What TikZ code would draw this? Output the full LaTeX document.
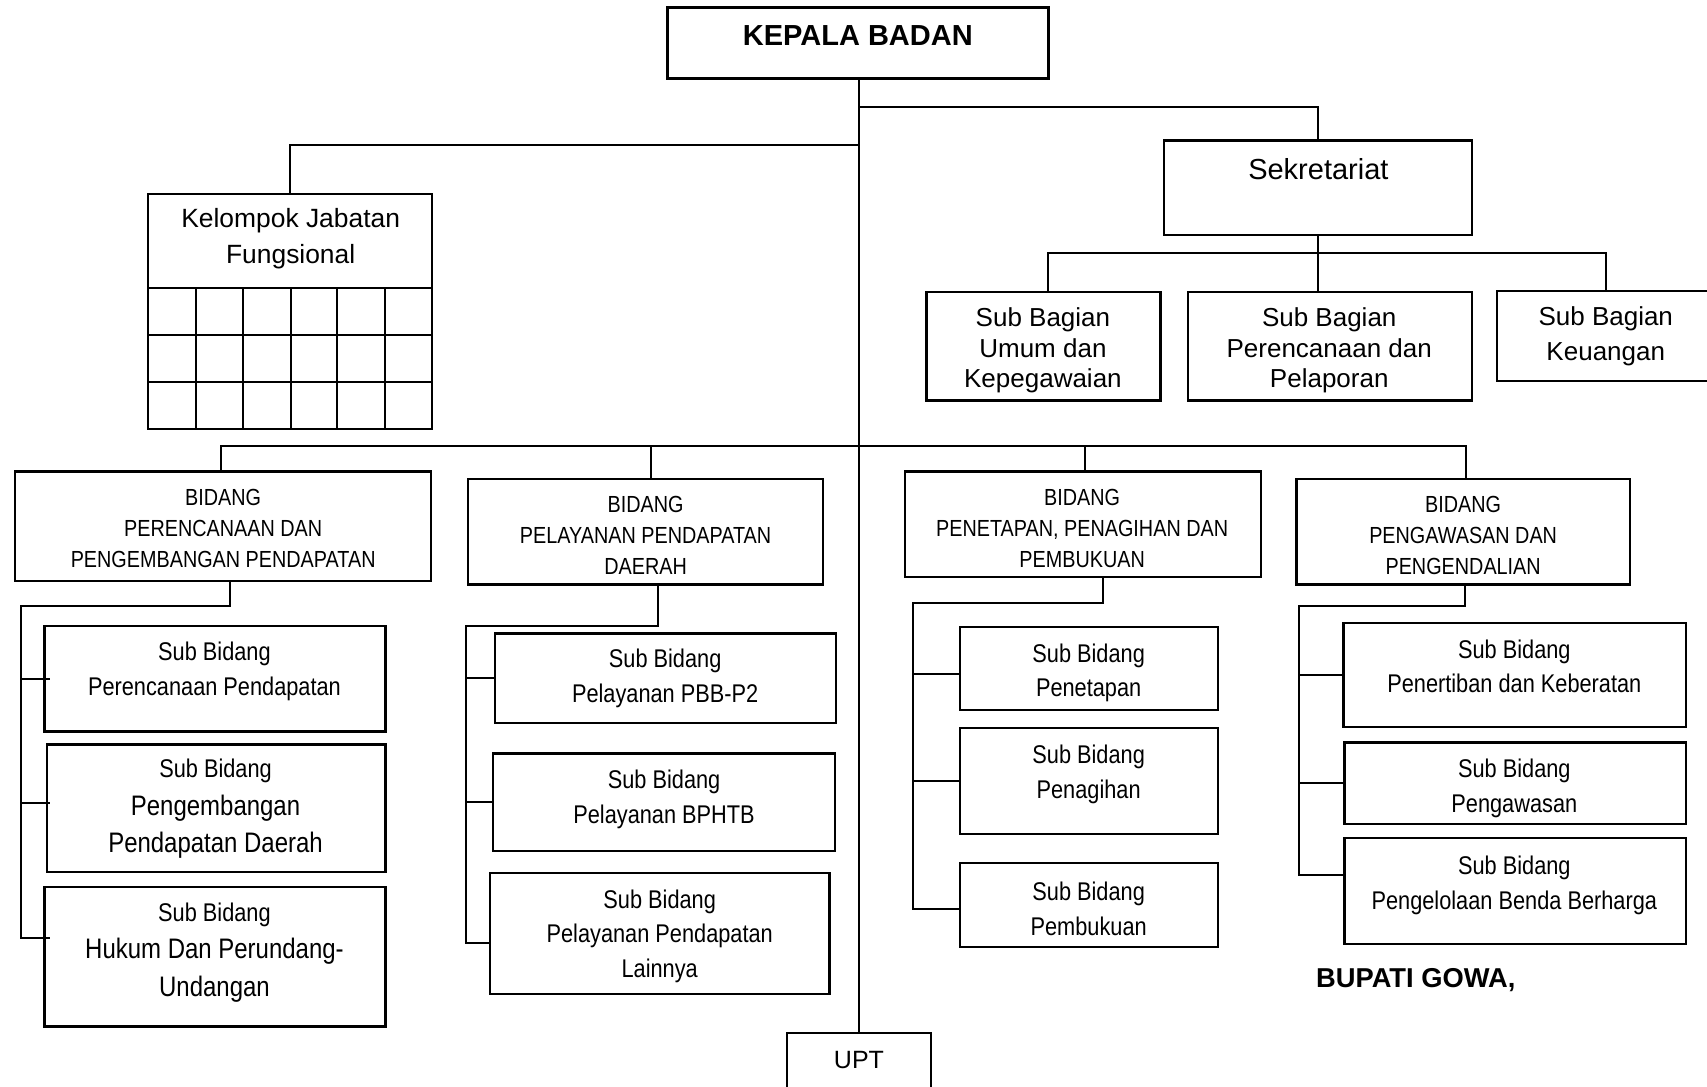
\documentclass[tikz,border=0pt]{standalone}
\usepackage{fontspec}
\setmainfont{Liberation Sans}
\newfontfamily\narrowfont[FakeStretch=0.85]{Liberation Sans}
\usetikzlibrary{calc}
\newcommand{\bx}[5]{\node[box, minimum width={(#4-#2)*1.0887pt}, minimum height={(#5-#3)*1.0887pt}] (#1) at ({(#2+#4)/2},{(#3+#5)/2}) {};}
\newcommand{\bigsb}{\fontsize{28.2}{38}\selectfont}
\begin{document}
\begin{tikzpicture}[x=1.0887pt,y=-1.0887pt,
  box/.style={draw,line width=2.3pt,inner sep=0pt,outer sep=0pt,rectangle},
  con/.style={line width=2pt},
  grid/.style={line width=2pt},
  txt/.style={align=center,inner sep=0pt,outer sep=0pt},
  sbagfont/.style={font=\fontsize{26}{30.5}\selectfont},
  bidfont/.style={font=\narrowfont\fontsize{23.3}{31}\selectfont},
  sbfont/.style={font=\narrowfont\fontsize{25.6}{34.8}\selectfont},
  sbbfont/.style={font=\narrowfont\fontsize{25.6}{37.5}\selectfont}]
\useasboundingbox (0,0) rectangle (1568,998);
\clip (0,0) rectangle (1568,998);
% boxes
\bx{kepala}{613}{7}{963}{72}
\bx{sek}{1069}{129}{1352}{216}
\bx{kel}{136}{178}{397}{394}
\bx{sbu}{851}{268}{1066}{368}
\bx{sbp}{1091}{268}{1352}{368}
\bx{sbk}{1375}{267}{1575}{350}
\bx{b1}{14}{433}{396}{534}
\bx{b2}{430}{440}{756}{537}
\bx{b3}{831}{433}{1158}{530}
\bx{b4}{1191}{440}{1497}{537}
\bx{s1a}{41}{575}{354}{672}
\bx{s1b}{43}{684}{354}{801}
\bx{s1c}{41}{815}{354}{943}
\bx{s2a}{455}{582}{768}{664}
\bx{s2b}{453}{692}{767}{782}
\bx{s2c}{450}{802}{762}{913}
\bx{s3a}{882}{576}{1119}{652}
\bx{s3b}{882}{669}{1119}{766}
\bx{s3c}{882}{793}{1119}{870}
\bx{s4a}{1234}{572}{1549}{668}
\bx{s4b}{1235}{682}{1549}{757}
\bx{s4c}{1235}{770}{1549}{867}
\bx{upt}{723}{949}{855}{1010}
% kelompok grid
\foreach \yy in {265,308,351} \draw[grid] (136,\yy) -- (397,\yy);
\foreach \xx in {180,223,267,310,354} \draw[grid] (\xx,265) -- (\xx,394);
% texts
\node[txt,font=\bfseries\fontsize{29}{34}\selectfont] (kepala-t) at (788,33) {KEPALA BADAN};
\node[txt,font=\fontsize{29}{34}\selectfont] (sek-t) at (1211,155) {Sekretariat};
\node[txt,font=\fontsize{26.4}{36}\selectfont] (kel-t) at (267,219) {Kelompok Jabatan\\Fungsional};
\node[txt,sbagfont] (sbu-t) at (958,322) {Sub Bagian\\Umum dan\\Kepegawaian};
\node[txt,sbagfont] (sbp-t) at (1221,322) {Sub Bagian\\Perencanaan dan\\Pelaporan};
\node[txt,font=\fontsize{26}{34.8}\selectfont] (sbk-t) at (1475,309) {Sub Bagian\\Keuangan};
\node[txt,bidfont] (b1-t) at (205,485) {BIDANG\\PERENCANAAN DAN\\PENGEMBANGAN PENDAPATAN};
\node[txt,bidfont] (b2-t) at (593,492) {BIDANG\\PELAYANAN PENDAPATAN\\DAERAH};
\node[txt,bidfont] (b3-t) at (994,485) {BIDANG\\PENETAPAN, PENAGIHAN DAN\\PEMBUKUAN};
\node[txt,bidfont] (b4-t) at (1344,492) {BIDANG\\PENGAWASAN DAN\\PENGENDALIAN};
\node[txt,sbfont] (s1a-t) at (197,617) {Sub Bidang\\Perencanaan Pendapatan};
\node[txt,sbbfont] (s1b-t) at (198,743) {Sub Bidang\\{\bigsb Pengembangan}\\{\bigsb Pendapatan Daerah}};
\node[txt,sbbfont] (s1c-t) at (197,875) {Sub Bidang\\{\bigsb Hukum Dan Perundang-}\\{\bigsb Undangan}};
\node[txt,sbfont] (s2a-t) at (611,623) {Sub Bidang\\Pelayanan PBB-P2};
\node[txt,sbfont] (s2b-t) at (610,734) {Sub Bidang\\Pelayanan BPHTB};
\node[txt,sbfont] (s2c-t) at (606,860) {Sub Bidang\\Pelayanan Pendapatan\\Lainnya};
\node[txt,sbfont] (s3a-t) at (1000,618) {Sub Bidang\\Penetapan};
\node[txt,sbfont] (s3b-t) at (1000,711) {Sub Bidang\\Penagihan};
\node[txt,sbfont] (s3c-t) at (1000,835) {Sub Bidang\\Pembukuan};
\node[txt,sbfont] (s4a-t) at (1391,612) {Sub Bidang\\Penertiban dan Keberatan};
\node[txt,sbfont] (s4b-t) at (1391,724) {Sub Bidang\\Pengawasan};
\node[txt,sbfont] (s4c-t) at (1391,813) {Sub Bidang\\Pengelolaan Benda Berharga};
\node[txt,anchor=west,font=\bfseries\fontsize{27.3}{30}\selectfont] (bupati) at (1209,900) {BUPATI GOWA,};
\node[txt,font=\fontsize{25}{30}\selectfont] (upt-t) at (789,974) {UPT};
% junctions
\coordinate (jS) at (789,98);
\coordinate (jK) at (789,133);
\coordinate (jB) at (789,410);
\coordinate (jSB) at (1211,232);
% trunk
\draw[con] (kepala.south -| upt.north) -- (upt.north);
\draw[con] (jS) -| (sek.north);
\draw[con] (jK) -| (kel.north);
% sekretariat
\draw[con] (sek.south) -- (sek.south |- sbp.north);
\coordinate (du) at ($(sbu.north)+(4.5,0)$);
\draw[con] (du) |- (jSB) -| (sbk.north);
% bidang bus
\coordinate (d1) at ($(b1.north)+(-2,0)$);
\coordinate (d2) at ($(b2.north)+(5,0)$);
\coordinate (d3) at ($(b3.north)+(2.5,0)$);
\coordinate (d4) at ($(b4.north)+(3,0)$);
\draw[con] (d1) |- (jB) -| (d4);
\draw[con] (d2) -- (d2 |- jB);
\draw[con] (d3) -- (d3 |- jB);
% bidang 1 children
\coordinate (v1) at (19,557);
\coordinate (t1a) at ($(s1a.west)+(5,0)$);
\coordinate (t1b) at ($(s1b.west)+(3,-4.5)$);
\coordinate (t1c) at ($(s1c.west)+(5,-17)$);
\draw[con] ($(b1.south)+(6,0)$) |- (v1) |- (t1c);
\draw[con] (v1 |- t1a) -- (t1a);
\draw[con] (v1 |- t1b) -- (t1b);
% bidang 2 children
\coordinate (v2) at (428,575);
\coordinate (t2a) at (s2a.west);
\coordinate (t2b) at (s2b.west);
\coordinate (t2c) at ($(s2c.west)+(0,8.5)$);
\draw[con] ($(b2.south)+(11,0)$) |- (v2) |- (t2c);
\draw[con] (v2 |- t2a) -- (t2a);
\draw[con] (v2 |- t2b) -- (t2b);
% bidang 3 children
\coordinate (v3) at (839,554);
\coordinate (t3a) at ($(s3a.west)+(0,5)$);
\coordinate (t3b) at (s3b.west);
\coordinate (t3c) at ($(s3c.west)+(0,3.5)$);
\draw[con] ($(b3.south)+(18.5,0)$) |- (v3) |- (t3c);
\draw[con] (v3 |- t3a) -- (t3a);
\draw[con] (v3 |- t3b) -- (t3b);
% bidang 4 children
\coordinate (v4) at (1193,557);
\coordinate (t4a) at (s4a.west);
\coordinate (t4b) at (s4b.west);
\coordinate (t4c) at ($(s4c.west)+(0,-14.5)$);
\draw[con] ($(b4.south)+(2,0)$) |- (v4) |- (t4c);
\draw[con] (v4 |- t4a) -- (t4a);
\draw[con] (v4 |- t4b) -- (t4b);
\end{tikzpicture}
\end{document}
